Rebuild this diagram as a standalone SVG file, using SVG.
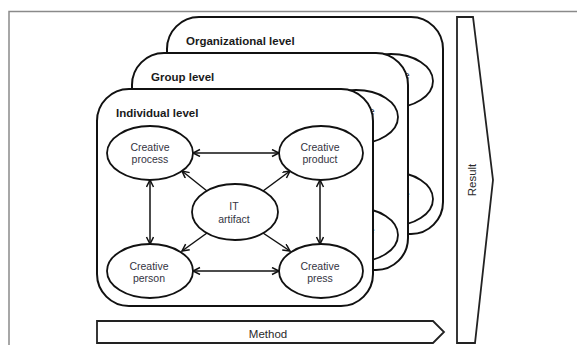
<svg xmlns="http://www.w3.org/2000/svg" xmlns:xlink="http://www.w3.org/1999/xlink" width="577" height="345" viewBox="0 0 577 345">
  <style>
    .frame { fill: none; stroke: #8a8a8a; stroke-width: 1.5; }
    .card { fill: #fff; stroke: #111; stroke-width: 2; }
    .node { fill: #fff; stroke: #111; stroke-width: 1.8; }
    .link { fill: none; stroke: #111; stroke-width: 1.5; }
    .shape { fill: #fff; stroke: #222; stroke-width: 1.8; stroke-linejoin: miter; }
    .title { font-family: "Liberation Sans", Arial, sans-serif; font-size: 11.5px; font-weight: bold; fill: #1a1a1a; }
    .label { font-family: "Liberation Sans", Arial, sans-serif; font-size: 10.5px; fill: #34343f; text-anchor: middle; }
    .big { font-family: "Liberation Sans", Arial, sans-serif; font-size: 11.5px; fill: #2a2a2a; text-anchor: middle; }
  </style>
  <defs>
    <marker id="head" viewBox="0 0 10 10" refX="8" refY="4" markerWidth="10" markerHeight="10" markerUnits="userSpaceOnUse" orient="auto-start-reverse">
      <path d="M1,0.5 L8,4 L1,7.5" fill="none" stroke="#111" stroke-width="1.5"/>
    </marker>
    <!-- one level: card, its five constructs and the links between them -->
    <g id="level-body">
      <rect class="card" x="97" y="89" width="276" height="217" rx="32" ry="32"/>
      <g id="connectors">
        <line class="link" x1="193" y1="153" x2="279" y2="153" marker-start="url(#head)" marker-end="url(#head)"/>
        <line class="link" x1="193" y1="271" x2="279" y2="271" marker-start="url(#head)" marker-end="url(#head)"/>
        <line class="link" x1="150" y1="180" x2="150" y2="244" marker-start="url(#head)" marker-end="url(#head)"/>
        <line class="link" x1="320" y1="180" x2="320" y2="244" marker-start="url(#head)" marker-end="url(#head)"/>
        <line class="link" x1="207" y1="191" x2="182" y2="171" marker-end="url(#head)"/>
        <line class="link" x1="263" y1="191" x2="290" y2="171" marker-end="url(#head)"/>
        <line class="link" x1="207" y1="233" x2="182" y2="251" marker-end="url(#head)"/>
        <line class="link" x1="263" y1="233" x2="290" y2="251" marker-end="url(#head)"/>
      </g>
      <g id="node-process">
        <ellipse class="node" cx="150" cy="153" rx="43" ry="27"/>
        <text class="label" x="150" y="151">Creative</text>
        <text class="label" x="150" y="163">process</text>
      </g>
      <g id="node-product">
        <ellipse class="node" cx="321" cy="153" rx="42" ry="27"/>
        <text class="label" x="320" y="151">Creative</text>
        <text class="label" x="320" y="163">product</text>
      </g>
      <g id="node-it">
        <ellipse class="node" cx="235" cy="212" rx="43" ry="28"/>
        <text class="label" x="234" y="210">IT</text>
        <text class="label" x="234" y="223">artifact</text>
      </g>
      <g id="node-person">
        <ellipse class="node" cx="150" cy="271" rx="43" ry="27"/>
        <text class="label" x="149" y="270">Creative</text>
        <text class="label" x="149" y="282">person</text>
      </g>
      <g id="node-press">
        <ellipse class="node" cx="321" cy="271" rx="42" ry="27"/>
        <text class="label" x="320" y="270">Creative</text>
        <text class="label" x="320" y="282">press</text>
      </g>
    </g>
  </defs>

  <!-- surrounding frame -->
  <path class="frame" d="M9,345 V11.5 H577"/>

  <!-- stacked levels, back to front -->
  <g id="level-organizational" transform="translate(70,-72)">
    <use xlink:href="#level-body" href="#level-body"/>
    <text class="title" x="116" y="117">Organizational level</text>
  </g>
  <g id="level-group" transform="translate(35,-36)">
    <use xlink:href="#level-body" href="#level-body"/>
    <text class="title" x="116" y="117">Group level</text>
  </g>
  <g id="level-individual">
    <use xlink:href="#level-body" href="#level-body"/>
    <text class="title" x="116" y="117">Individual level</text>
  </g>

  <!-- method arrow along the bottom -->
  <g id="method">
    <polygon class="shape" points="97,321 433,321 444,332 433,343 97,343"/>
    <text class="big" x="268" y="338">Method</text>
  </g>

  <!-- result arrow on the right -->
  <g id="result">
    <polygon class="shape" points="457,17 473,17 493,180 475,343 457,343"/>
    <text class="big" transform="translate(476,180) rotate(-90)" x="0" y="0">Result</text>
  </g>
</svg>
